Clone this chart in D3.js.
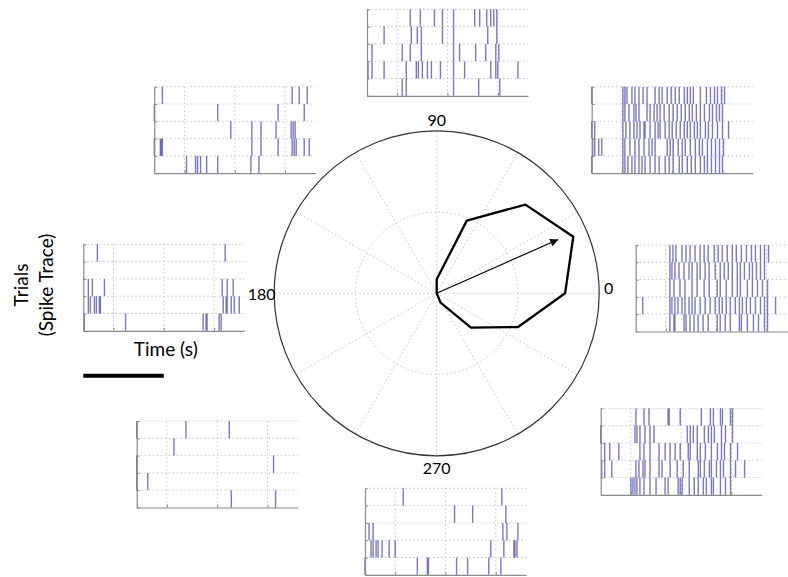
<!DOCTYPE html>
<html>
<head>
<meta charset="utf-8">
<script src="https://cdn.jsdelivr.net/npm/d3@7"></script>
<style>
  body { margin: 0; background: #fff; }
  svg { display: block; }
  text { font-family: Lato, "Open Sans", "DejaVu Sans", sans-serif; fill: #000; }
</style>
</head>
<body>
<svg id="chart" width="788" height="577"></svg>
<script>
// ---- Data -------------------------------------------------------------

// Motion directions (degrees) for which a spike raster was recorded
const directions = [0, 45, 90, 135, 180, 225, 270, 315];

// Trial numbers (rows of each raster, top to bottom)
const trials = [1, 2, 3, 4, 5];

// Time axis (seconds relative to stimulus onset)
const timeDomain = [-0.3, 1.3];
const timeTicks = [0, 0.5, 1.0];

// Spike times (s) per trial, one list per direction
const spikes0 = [
  [0.04, 0.07, 0.10, 0.16, 0.20, 0.24, 0.29, 0.34, 0.38, 0.42, 0.48, 0.52, 0.56, 0.61, 0.66, 0.70, 0.75, 0.80, 0.85, 0.89, 0.94, 0.98, 1.02],
  [0.04, 0.06, 0.09, 0.13, 0.18, 0.23, 0.26, 0.31, 0.34, 0.39, 0.43, 0.49, 0.54, 0.58, 0.62, 0.66, 0.71, 0.74, 0.78, 0.83, 0.86, 0.90, 0.94, 0.98],
  [0.04, 0.08, 0.14, 0.19, 0.26, 0.31, 0.38, 0.43, 0.51, 0.54, 0.60, 0.66, 0.71, 0.74, 0.81, 0.86, 0.91, 0.96, 1.01],
  [-0.23, 0.04, 0.06, 0.09, 0.12, 0.16, 0.19, 0.23, 0.26, 0.29, 0.34, 0.39, 0.44, 0.49, 0.53, 0.56, 0.60, 0.64, 0.69, 0.73, 0.76, 0.80, 0.84, 0.89, 0.94, 0.98, 1.01, 1.09],
  [0.04, 0.08, 0.09, 0.18, 0.20, 0.24, 0.28, 0.32, 0.37, 0.42, 0.51, 0.54, 0.59, 0.64, 0.73, 0.75, 0.81, 0.87, 0.92, 0.98, 1.01]
];
const spikes45 = [
  [-0.30, 0.01, 0.03, 0.05, 0.10, 0.13, 0.17, 0.21, 0.25, 0.33, 0.37, 0.40, 0.45, 0.49, 0.53, 0.57, 0.62, 0.65, 0.68, 0.71, 0.78, 0.84, 0.88, 0.92, 0.95, 0.99, 1.02],
  [0.01, 0.03, 0.07, 0.12, 0.14, 0.17, 0.25, 0.28, 0.32, 0.35, 0.38, 0.42, 0.47, 0.51, 0.55, 0.59, 0.63, 0.67, 0.70, 0.74, 0.78, 0.82, 0.87, 0.90, 0.94, 0.97, 1.00],
  [-0.30, -0.27, 0.01, 0.04, 0.08, 0.12, 0.15, 0.18, 0.22, 0.23, 0.28, 0.33, 0.36, 0.38, 0.43, 0.47, 0.50, 0.54, 0.58, 0.62, 0.65, 0.68, 0.72, 0.75, 0.78, 0.83, 0.86, 0.90, 0.95, 1.00, 1.06],
  [-0.29, -0.27, -0.23, -0.20, 0.01, 0.03, 0.08, 0.13, 0.17, 0.22, 0.27, 0.30, 0.33, 0.45, 0.48, 0.51, 0.56, 0.60, 0.63, 0.68, 0.73, 0.77, 0.80, 0.85, 0.89, 0.93, 0.97, 1.01],
  [-0.30, 0.01, 0.03, 0.06, 0.10, 0.13, 0.17, 0.20, 0.23, 0.28, 0.33, 0.37, 0.43, 0.47, 0.51, 0.57, 0.60, 0.65, 0.69, 0.73, 0.78, 0.82, 0.85, 0.89, 0.93, 0.97, 1.00]
];
const spikes90 = [
  [0.13, 0.23, 0.37, 0.45, 0.56, 0.77, 0.82, 0.89, 0.93, 0.96, 0.99],
  [-0.13, 0.14, 0.20, 0.24, 0.45, 0.56, 0.90, 0.99],
  [-0.25, 0.05, 0.13, 0.24, 0.56, 0.62, 0.78, 0.88, 0.98, 1.01],
  [-0.29, -0.25, -0.13, 0.09, 0.19, 0.21, 0.25, 0.30, 0.34, 0.43, 0.56, 0.67, 0.93, 0.98, 1.00, 1.20],
  [0.05, 0.09, 0.56, 0.81, 1.02]
];
const spikes135 = [
  [-0.22, 1.07, 1.14, 1.22],
  [-0.30, 0.33, 0.93, 1.19],
  [0.46, 0.67, 0.76, 0.91, 1.06, 1.08, 1.10],
  [-0.30, -0.24, -0.23, -0.22, 0.67, 0.76, 0.93, 1.07, 1.09, 1.11, 1.19, 1.24],
  [0.02, 0.11, 0.13, 0.16, 0.22, 0.33, 0.66, 0.74]
];
const spikes180 = [
  [-0.16, 1.11],
  [],
  [-0.25, -0.21, -0.09, 1.08, 1.13, 1.19],
  [-0.25, -0.23, -0.19, -0.17, -0.14, -0.13, 1.09, 1.12, 1.13, 1.17, 1.20, 1.25],
  [-0.29, 0.12, 0.89, 0.92, 0.93, 1.05, 1.07]
];
const spikes225 = [
  [-0.30, 0.19, 0.62],
  [0.07],
  [-0.30, 1.06],
  [-0.30, -0.19],
  [0.64, 1.08]
];
const spikes270 = [
  [0.08, 1.06],
  [0.59, 0.77, 1.10],
  [-0.26, -0.22, 1.07, 1.11, 1.22],
  [-0.24, -0.22, -0.19, -0.17, -0.13, -0.06, 0.00, 0.95, 1.08, 1.18, 1.19, 1.21],
  [-0.30, 0.22, 0.32, 0.33, 0.61, 0.72, 0.93, 1.05]
];
const spikes315 = [
  [0.05, 0.13, 0.18, 0.37, 0.38, 0.49, 0.70, 0.79, 0.82, 0.89, 0.91, 0.99, 1.01],
  [-0.30, 0.04, 0.06, 0.09, 0.14, 0.19, 0.23, 0.56, 0.59, 0.62, 0.66, 0.73, 0.77, 0.80, 0.83, 0.90, 0.94, 1.01],
  [-0.26, -0.21, -0.12, 0.09, 0.13, 0.19, 0.28, 0.34, 0.39, 0.44, 0.49, 0.57, 0.59, 0.66, 0.69, 0.74, 0.80, 0.86, 0.90, 0.93, 0.99, 1.06],
  [-0.29, -0.26, -0.19, 0.05, 0.08, 0.12, 0.14, 0.19, 0.28, 0.31, 0.39, 0.46, 0.52, 0.58, 0.67, 0.69, 0.73, 0.78, 0.80, 0.85, 0.89, 0.92, 0.99, 1.04, 1.13],
  [0.00, 0.02, 0.04, 0.06, 0.09, 0.13, 0.19, 0.25, 0.34, 0.37, 0.47, 0.49, 0.51, 0.58, 0.63, 0.67, 0.72, 0.75, 0.80, 0.82, 0.89, 0.94, 0.99]
];

// Tuning curve: mean firing rate (spikes/s) by direction
const tuningAngles = [0, 22.5, 45, 67.5, 90, 112.5, 135, 157.5, 180, 202.5, 225, 247.5, 270, 292.5, 315, 337.5];
const tuningRates  = [39.5, 45.5, 38.6, 24.2, 4.3, 0, 0, 0, 0, 0, 0, 0, 0, 3.1, 14.9, 27.1];
const rateMax = 50;

// Preferred-direction vector
const prefAngle = 23.9;
const prefMagnitude = 40.9;

// Polar angle labels
const polarLabels = ["0", "90", "180", "270"];
const polarLabelAngles = [0, 90, 180, 270];

// Raster lookup built from the lists above
const rasterByDirection = new Map([
  [0, spikes0], [45, spikes45], [90, spikes90], [135, spikes135],
  [180, spikes180], [225, spikes225], [270, spikes270], [315, spikes315]
]);

// ---- Layout -----------------------------------------------------------

const PW = 161, PH = 86.5;
const panelPos = new Map([
  [0,   { x: 635.7, y: 245.0 }],
  [45,  { x: 591.7, y: 86.7 }],
  [90,  { x: 367.0, y: 9.3 }],
  [135, { x: 154.3, y: 86.7 }],
  [180, { x: 83.3,  y: 244.3 }],
  [225, { x: 136.7, y: 421.0 }],
  [270, { x: 365.0, y: 488.3 }],
  [315, { x: 600.7, y: 408.3 }]
]);
const polar = { cx: 436.7, cy: 293.3, R: 162.5 };

const spikeColor = "#4040ad";
const gridColor = "#c4c4c4";
const axisColor = "#8a8a8a";

const svg = d3.select("#chart");

// ---- Spike rasters ----------------------------------------------------

const xTime = d3.scaleLinear().domain(timeDomain).range([0, PW]);
const yTrial = d3.scaleLinear().domain([0, trials.length]).range([0, PH]);

directions.forEach(dir => {
  const pos = panelPos.get(dir);
  const g = svg.append("g").attr("transform", `translate(${pos.x},${pos.y})`);

  // horizontal dotted grid at row boundaries
  g.selectAll("line.hgrid")
    .data(d3.range(0, trials.length))
    .join("line")
    .attr("class", "hgrid")
    .attr("x1", 0).attr("x2", PW)
    .attr("y1", d => yTrial(d)).attr("y2", d => yTrial(d))
    .attr("stroke", gridColor).attr("stroke-width", 1)
    .attr("stroke-dasharray", "1.5,2.5");

  // vertical dotted grid at time ticks
  g.selectAll("line.vgrid")
    .data(timeTicks)
    .join("line")
    .attr("class", "vgrid")
    .attr("x1", d => xTime(d)).attr("x2", d => xTime(d))
    .attr("y1", 0).attr("y2", PH)
    .attr("stroke", gridColor).attr("stroke-width", 1)
    .attr("stroke-dasharray", "1.5,2.5");

  // spikes: one vertical tick per spike spanning its trial row
  const rows = rasterByDirection.get(dir);
  const spikeData = rows.flatMap((times, i) => times.map(t => ({ t, row: i })));
  g.selectAll("line.spike")
    .data(spikeData)
    .join("line")
    .attr("class", "spike")
    .attr("x1", d => xTime(d.t)).attr("x2", d => xTime(d.t))
    .attr("y1", d => yTrial(d.row)).attr("y2", d => yTrial(d.row + 1))
    .attr("stroke", spikeColor).attr("stroke-width", 1.4)
    .attr("stroke-opacity", 0.7);

  // axes
  const ax = g.append("g")
    .attr("transform", `translate(0,${PH})`)
    .call(d3.axisBottom(xTime).tickValues(timeTicks).tickSizeInner(-3).tickSizeOuter(0).tickFormat(""));
  const ay = g.append("g")
    .call(d3.axisLeft(yTrial).ticks(trials.length).tickSizeInner(-3).tickSizeOuter(0).tickFormat(""));
  [ax, ay].forEach(a => {
    a.select(".domain").attr("stroke", axisColor).attr("stroke-width", 1.2);
    a.selectAll(".tick line").attr("stroke", axisColor);
  });
});

// ---- Axis captions and scale bar --------------------------------------

svg.append("text")
  .attr("transform", "translate(20,285) rotate(-90)")
  .attr("text-anchor", "middle").attr("dominant-baseline", "central")
  .attr("font-size", 19)
  .text("Trials");
svg.append("text")
  .attr("transform", "translate(45,285) rotate(-90)")
  .attr("text-anchor", "middle").attr("dominant-baseline", "central")
  .attr("font-size", 19)
  .text("(Spike Trace)");

const leftPanel = panelPos.get(180);
svg.append("text")
  .attr("x", leftPanel.x + xTime(0.5) + 2)
  .attr("y", 356)
  .attr("text-anchor", "middle")
  .attr("font-size", 19)
  .text("Time (s)");

svg.append("line")
  .attr("x1", leftPanel.x + xTime(timeDomain[0]))
  .attr("x2", leftPanel.x + xTime(0.5))
  .attr("y1", 375.7).attr("y2", 375.7)
  .attr("stroke", "#000").attr("stroke-width", 4);

// ---- Polar tuning plot ------------------------------------------------

const rScale = d3.scaleLinear().domain([0, rateMax]).range([0, polar.R]);
const toRad = a => a * Math.PI / 180;
const pg = svg.append("g").attr("transform", `translate(${polar.cx},${polar.cy})`);

// spokes every 30 degrees
pg.selectAll("line.spoke")
  .data(d3.range(0, 360, 30))
  .join("line")
  .attr("class", "spoke")
  .attr("x1", 0).attr("y1", 0)
  .attr("x2", a => rScale(rateMax) * Math.cos(toRad(a)))
  .attr("y2", a => -rScale(rateMax) * Math.sin(toRad(a)))
  .attr("stroke", gridColor).attr("stroke-width", 1)
  .attr("stroke-dasharray", "1.5,2.5");

// inner dotted ring
pg.append("circle")
  .attr("r", rScale(rateMax / 2))
  .attr("fill", "none")
  .attr("stroke", gridColor).attr("stroke-width", 1)
  .attr("stroke-dasharray", "1.5,2.5");

// outer ring
pg.append("circle")
  .attr("r", rScale(rateMax))
  .attr("fill", "none")
  .attr("stroke", "#333").attr("stroke-width", 1.2);

// angle labels
const labelOffset = { 0: [172, 1], 90: [0, -167], 180: [-175, 7], 270: [0, 181] };
pg.selectAll("text.angle")
  .data(polarLabelAngles.map((a, i) => ({ a, label: polarLabels[i] })))
  .join("text")
  .attr("class", "angle")
  .attr("x", d => labelOffset[d.a][0])
  .attr("y", d => labelOffset[d.a][1])
  .attr("text-anchor", "middle")
  .attr("font-size", 16)
  .text(d => d.label);

// tuning polygon
const tuningPts = tuningAngles.map((a, i) => ({ angle: a, rate: tuningRates[i] }));
const radial = d3.lineRadial()
  .angle(d => toRad(90 - d.angle))
  .radius(d => rScale(d.rate))
  .curve(d3.curveLinearClosed);
pg.append("path")
  .attr("d", radial(tuningPts))
  .attr("fill", "none")
  .attr("stroke", "#000").attr("stroke-width", 2.3)
  .attr("stroke-linejoin", "round");

// preferred direction arrow
svg.append("defs").append("marker")
  .attr("id", "arrowHead")
  .attr("viewBox", "0 0 10 10")
  .attr("refX", 10).attr("refY", 5)
  .attr("markerWidth", 10).attr("markerHeight", 8)
  .attr("markerUnits", "userSpaceOnUse")
  .attr("orient", "auto")
  .append("path")
  .attr("d", "M0,0 L10,5 L0,10 Z")
  .attr("fill", "#000");

const pr = rScale(prefMagnitude);
pg.append("line")
  .attr("x1", 0).attr("y1", 0)
  .attr("x2", pr * Math.cos(toRad(prefAngle)))
  .attr("y2", -pr * Math.sin(toRad(prefAngle)))
  .attr("stroke", "#000").attr("stroke-width", 1.2)
  .attr("marker-end", "url(#arrowHead)");
</script>
</body>
</html>
